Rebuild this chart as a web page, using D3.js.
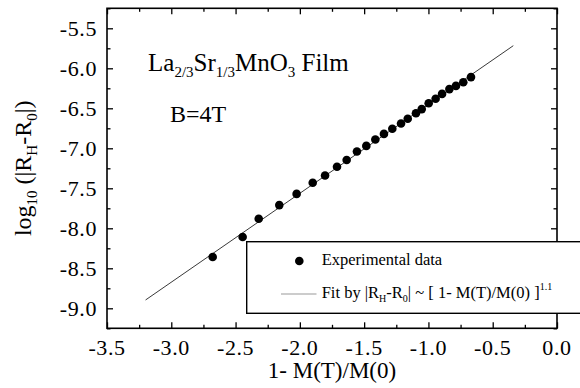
<!DOCTYPE html>
<html>
<head>
<meta charset="utf-8">
<script src="https://cdn.jsdelivr.net/npm/d3@7"></script>
<style>
  html, body { margin: 0; padding: 0; background: #fff; }
  svg { display: block; }
  svg text { font-family: "Liberation Serif", "Times New Roman", serif !important; fill: #000; }
</style>
</head>
<body>
<div id="chart"></div>
<script>
// ---- data ----
const expX = [-2.678, -2.445, -2.32, -2.16, -2.025, -1.90, -1.804, -1.711, -1.636, -1.556,
              -1.483, -1.413, -1.346, -1.281, -1.213, -1.161, -1.097, -1.052, -0.998, -0.944,
              -0.894, -0.837, -0.786, -0.729, -0.669];
const expY = [-8.359, -8.109, -7.88, -7.71, -7.57, -7.43, -7.34, -7.23, -7.146, -7.04,
              -6.97, -6.89, -6.82, -6.755, -6.69, -6.63, -6.5625, -6.51, -6.4375, -6.38,
              -6.32, -6.26, -6.22, -6.175, -6.11];
const fitX = [-3.2, -0.34];
const fitY = [-8.896, -5.7175];
const xTickValues = [-3.5, -3.0, -2.5, -2.0, -1.5, -1.0, -0.5, 0.0];
const xTickLabels = ["-3.5", "-3.0", "-2.5", "-2.0", "-1.5", "-1.0", "-0.5", "0.0"];
const yTickValues = [-9.0, -8.5, -8.0, -7.5, -7.0, -6.5, -6.0, -5.5];
const yTickLabels = ["-9.0", "-8.5", "-8.0", "-7.5", "-7.0", "-6.5", "-6.0", "-5.5"];
const xMinorTicks = [-3.25, -2.75, -2.25, -1.75, -1.25, -0.75, -0.25];
const yMinorTicks = [-9.25, -8.75, -8.25, -7.75, -7.25, -6.75, -6.25, -5.75, -5.25];

const W = 580, H = 388;
const L = 107, R = 557, T = 8.3, B = 328.3;
const SERIF = '"Liberation Serif", "Times New Roman", serif';

const svg = d3.select("#chart").append("svg").attr("width", W).attr("height", H);

const x = d3.scaleLinear().domain([-3.5, 0]).range([L, R]);
const y = d3.scaleLinear().domain([-9.25, -5.25]).range([B, T]);

// fit line
svg.append("path")
  .datum(fitX.map((v, i) => [v, fitY[i]]))
  .attr("d", d3.line().x(d => x(d[0])).y(d => y(d[1])))
  .attr("fill", "none").attr("stroke", "#222").attr("stroke-width", 0.9);

// points
svg.append("g").selectAll("circle")
  .data(expX.map((v, i) => [v, expY[i]]))
  .join("circle")
  .attr("cx", d => x(d[0])).attr("cy", d => y(d[1]))
  .attr("r", 4.3).attr("fill", "#000");

// tick marks (inward) via d3 axes
const major = 6, minor = 3.5;
function addTicks(axisFn, scale, transform, vals, size) {
  const a = axisFn(scale).tickValues(vals).tickSizeInner(-size).tickSizeOuter(0).tickFormat("");
  const g = svg.append("g").attr("transform", transform).call(a);
  g.select(".domain").remove();
  g.selectAll("text").remove();
  g.selectAll(".tick line").attr("stroke", "#000").attr("stroke-width", 1.3);
}
addTicks(d3.axisBottom, x, `translate(0,${B})`, xTickValues, major);
addTicks(d3.axisBottom, x, `translate(0,${B})`, xMinorTicks, minor);
addTicks(d3.axisLeft, y, `translate(${L},0)`, yTickValues, major);
addTicks(d3.axisLeft, y, `translate(${L},0)`, yMinorTicks, minor);
addTicks(d3.axisTop, x, `translate(0,${T})`, xTickValues, major);
addTicks(d3.axisTop, x, `translate(0,${T})`, xMinorTicks, minor);
addTicks(d3.axisRight, y, `translate(${R},0)`, yTickValues, major);
addTicks(d3.axisRight, y, `translate(${R},0)`, yMinorTicks, minor);

// tick labels
svg.append("g").selectAll("text").data(xTickValues).join("text")
  .attr("x", d => x(d)).attr("y", 354.5).attr("text-anchor", "middle")
  .attr("font-family", SERIF).attr("font-size", 22).attr("letter-spacing", 0.6)
  .text((d, i) => xTickLabels[i]);
svg.append("g").selectAll("text").data(yTickValues).join("text")
  .attr("x", 97).attr("y", d => y(d) + 7.5).attr("text-anchor", "end")
  .attr("font-family", SERIF).attr("font-size", 22).attr("letter-spacing", 0.6)
  .text((d, i) => yTickLabels[i]);

// frame
svg.append("rect").attr("x", L).attr("y", T).attr("width", R - L).attr("height", B - T)
  .attr("fill", "none").attr("stroke", "#000").attr("stroke-width", 1.6);

// axis titles
svg.append("text").attr("x", (L + R) / 2).attr("y", 378).attr("text-anchor", "middle")
  .attr("font-family", SERIF).attr("font-size", 23).text("1- M(T)/M(0)");

const yt = svg.append("text").attr("transform", `translate(31,${(T + B) / 2}) rotate(-90)`)
  .attr("text-anchor", "middle").attr("font-family", SERIF).attr("font-size", 24);
yt.append("tspan").text("log");
yt.append("tspan").attr("font-size", 15).attr("dy", 6).text("10");
yt.append("tspan").attr("dy", -6).text(" (|R");
yt.append("tspan").attr("font-size", 15).attr("dy", 6).text("H");
yt.append("tspan").attr("dy", -6).text("-R");
yt.append("tspan").attr("font-size", 15).attr("dy", 6).text("0");
yt.append("tspan").attr("dy", -6).text("|)");

// annotations
const t1 = svg.append("text").attr("x", 148).attr("y", 71).attr("font-family", SERIF).attr("font-size", 25);
t1.append("tspan").text("La");
t1.append("tspan").attr("font-size", 15).attr("dy", 6).text("2/3");
t1.append("tspan").attr("dy", -6).text("Sr");
t1.append("tspan").attr("font-size", 15).attr("dy", 6).text("1/3");
t1.append("tspan").attr("dy", -6).text("MnO");
t1.append("tspan").attr("font-size", 15).attr("dy", 6).text("3");
t1.append("tspan").attr("dy", -6).text(" Film");

svg.append("text").attr("x", 170).attr("y", 121.5).attr("font-family", SERIF)
  .attr("font-size", 24).text("B=4T");

// legend
const lg = svg.append("g");
lg.append("rect").attr("x", 246.7).attr("y", 241.7).attr("width", 360).attr("height", 71.6)
  .attr("fill", "#fff").attr("stroke", "#000").attr("stroke-width", 1.4);
lg.append("circle").attr("cx", 299.3).attr("cy", 261).attr("r", 4.3).attr("fill", "#000");
lg.append("text").attr("x", 321.7).attr("y", 264.5).attr("font-family", SERIF)
  .attr("font-size", 16.5).text("Experimental data");
lg.append("line").attr("x1", 281).attr("x2", 316.5).attr("y1", 294).attr("y2", 294)
  .attr("stroke", "#999").attr("stroke-width", 1);
const ft = lg.append("text").attr("x", 321.7).attr("y", 298).attr("font-family", SERIF).attr("font-size", 16.5);
ft.append("tspan").text("Fit by |R");
ft.append("tspan").attr("font-size", 10).attr("dy", 4).text("H");
ft.append("tspan").attr("dy", -4).text("-R");
ft.append("tspan").attr("font-size", 10).attr("dy", 4).text("0");
ft.append("tspan").attr("dy", -4).text("| ~ [ 1- M(T)/M(0) ]");
ft.append("tspan").attr("font-size", 10).attr("dy", -8).text("1.1");
</script>
</body>
</html>
